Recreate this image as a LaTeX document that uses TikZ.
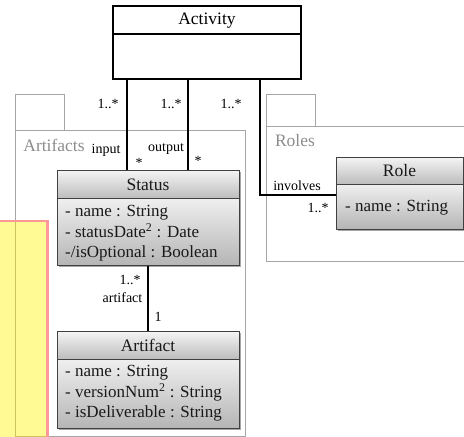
\documentclass[tikz,border=0pt]{standalone}
\usepackage{fontspec}
\setmainfont{Liberation Serif}
\usetikzlibrary{shadows}
\tikzset{
  classhead/.style={draw=black!75, line width=1pt, top color=black!4, bottom color=black!26,
    minimum width=182pt, minimum height=28pt, inner sep=0pt, text=black!90,
    font=\fontsize{17.5}{20}\selectfont,
    drop shadow={shadow xshift=1.6pt, shadow yshift=-1.6pt, fill=black!35, opacity=1}},
  classbody/.style={classhead, top color=black!6, bottom color=black!29},
  attr/.style={anchor=west, align=left, inner sep=0pt, text=black!90, font=\fontsize{17}{20.5}\selectfont},
  plain/.style={draw=black, line width=1.1pt, fill=white, minimum width=188pt, inner sep=0pt,
    font=\fontsize{17.5}{20}\selectfont},
  assoc/.style={line width=2.6pt, black},
  role/.style={inner sep=0pt, font=\fontsize{14}{16}\selectfont},
  pkg/.style={draw=black!35, line width=0.9pt},
  pkgname/.style={inner sep=0pt, text=black!45, font=\fontsize{17.5}{20}\selectfont},
}

\begin{document}
\begin{tikzpicture}[x=1pt, y=-1pt]
		%%%%% START %%%%%
		\useasboundingbox (0,0) rectangle (464,437);
		
		% packages
		\draw[pkg] (15,94) rectangle (64,130.5);
		\draw[pkg] (15,130.5) rectangle (245.5,436);
		\node[pkgname] (artifacts) at (54,145) {Artifacts};
		
		\draw[pkg] (266.5,94) rectangle (315.5,126);
		\draw[pkg] (266.5,126) rectangle (470,261.5);
		\node[pkgname] (roles) at (295,141) {Roles};
		
		% activity
		\node[plain, minimum height=28pt] (act) at (207,20) {};
		\node[inner sep=0pt, font=\fontsize{17.5}{20}\selectfont] (actname) at (207,21) {Activity};
		\node[plain, minimum height=45pt] (actb) at (207,56.5) {};
		
		% status
		\node[classhead] (stat) at (148,184) {};
		\node[inner sep=0pt, text=black!90, font=\fontsize{17.5}{20}\selectfont] (statname) at (148,185) {Status};
		\node[classbody, minimum height=67pt] (statb) at (148,231.5) {};
		\node[attr] (statattr) at (65,233.5) {- name : String\\- statusDate\textsuperscript{2} : Date\\-/isOptional : Boolean};
		
		% artifact
		\node[classhead] (art) at (148,345) {};
		\node[inner sep=0pt, text=black!90, font=\fontsize{17.5}{20}\selectfont] (artname) at (148,345.5) {Artifact};
		\node[classbody, minimum height=69pt] (artb) at (148,393.5) {};
		\node[attr] (artattr) at (65,393.5) {- name : String\\- versionNum\textsuperscript{2} : String\\- isDeliverable : String};
		
		% role
		\node[classhead, minimum width=127pt, minimum height=27pt] (role) at (399.5,170.5) {Role};
		\node[classbody, minimum width=127pt, minimum height=45pt] (roleb) at (399.5,206.5) {};
		\node[attr] (roleattr) at (345,207.5) {- name : String};
		
		% associations
		\coordinate (inx) at (127,0);
		\coordinate (outx) at (188,0);
		\coordinate (bend) at (260,195);
		\draw[assoc] (actb.south -| inx) -- (stat.north -| inx);
		\draw[assoc] (actb.south -| outx) -- (stat.north -| outx);
		\draw[assoc] (actb.south -| bend) -- (bend) -- (bend -| roleb.west);
		\draw[assoc] (statb.south) -- (art.north);
		
		\node[role] (m1) at (108,104) {1..*};
		\node[role] (m2) at (171,104) {1..*};
		\node[role] (m3) at (231,104) {1..*};
		\node[role] (input) at (106,150) {input};
		\node[role] (output) at (166,149) {output};
		\node[role] (s1) at (139,163) {*};
		\node[role] (s2) at (198,161) {*};
		\node[role] (inv) at (297,186) {involves};
		\node[role] (m4) at (318,208) {1..*};
		\node[role] (m5) at (130,280) {1..*};
		\node[role] (artrole) at (122.5,298) {artifact};
		\node[role] (one) at (158,317) {1};
		
		% highlight
		\fill[yellow, fill opacity=0.42] (-5,221) rectangle (47.5,445);
		\draw[red!40, line width=2.5pt] (-5,221) -- (47.5,221) -- (47.5,445);
		
		%%%%% END %%%%%
\end{tikzpicture}
\end{document}
